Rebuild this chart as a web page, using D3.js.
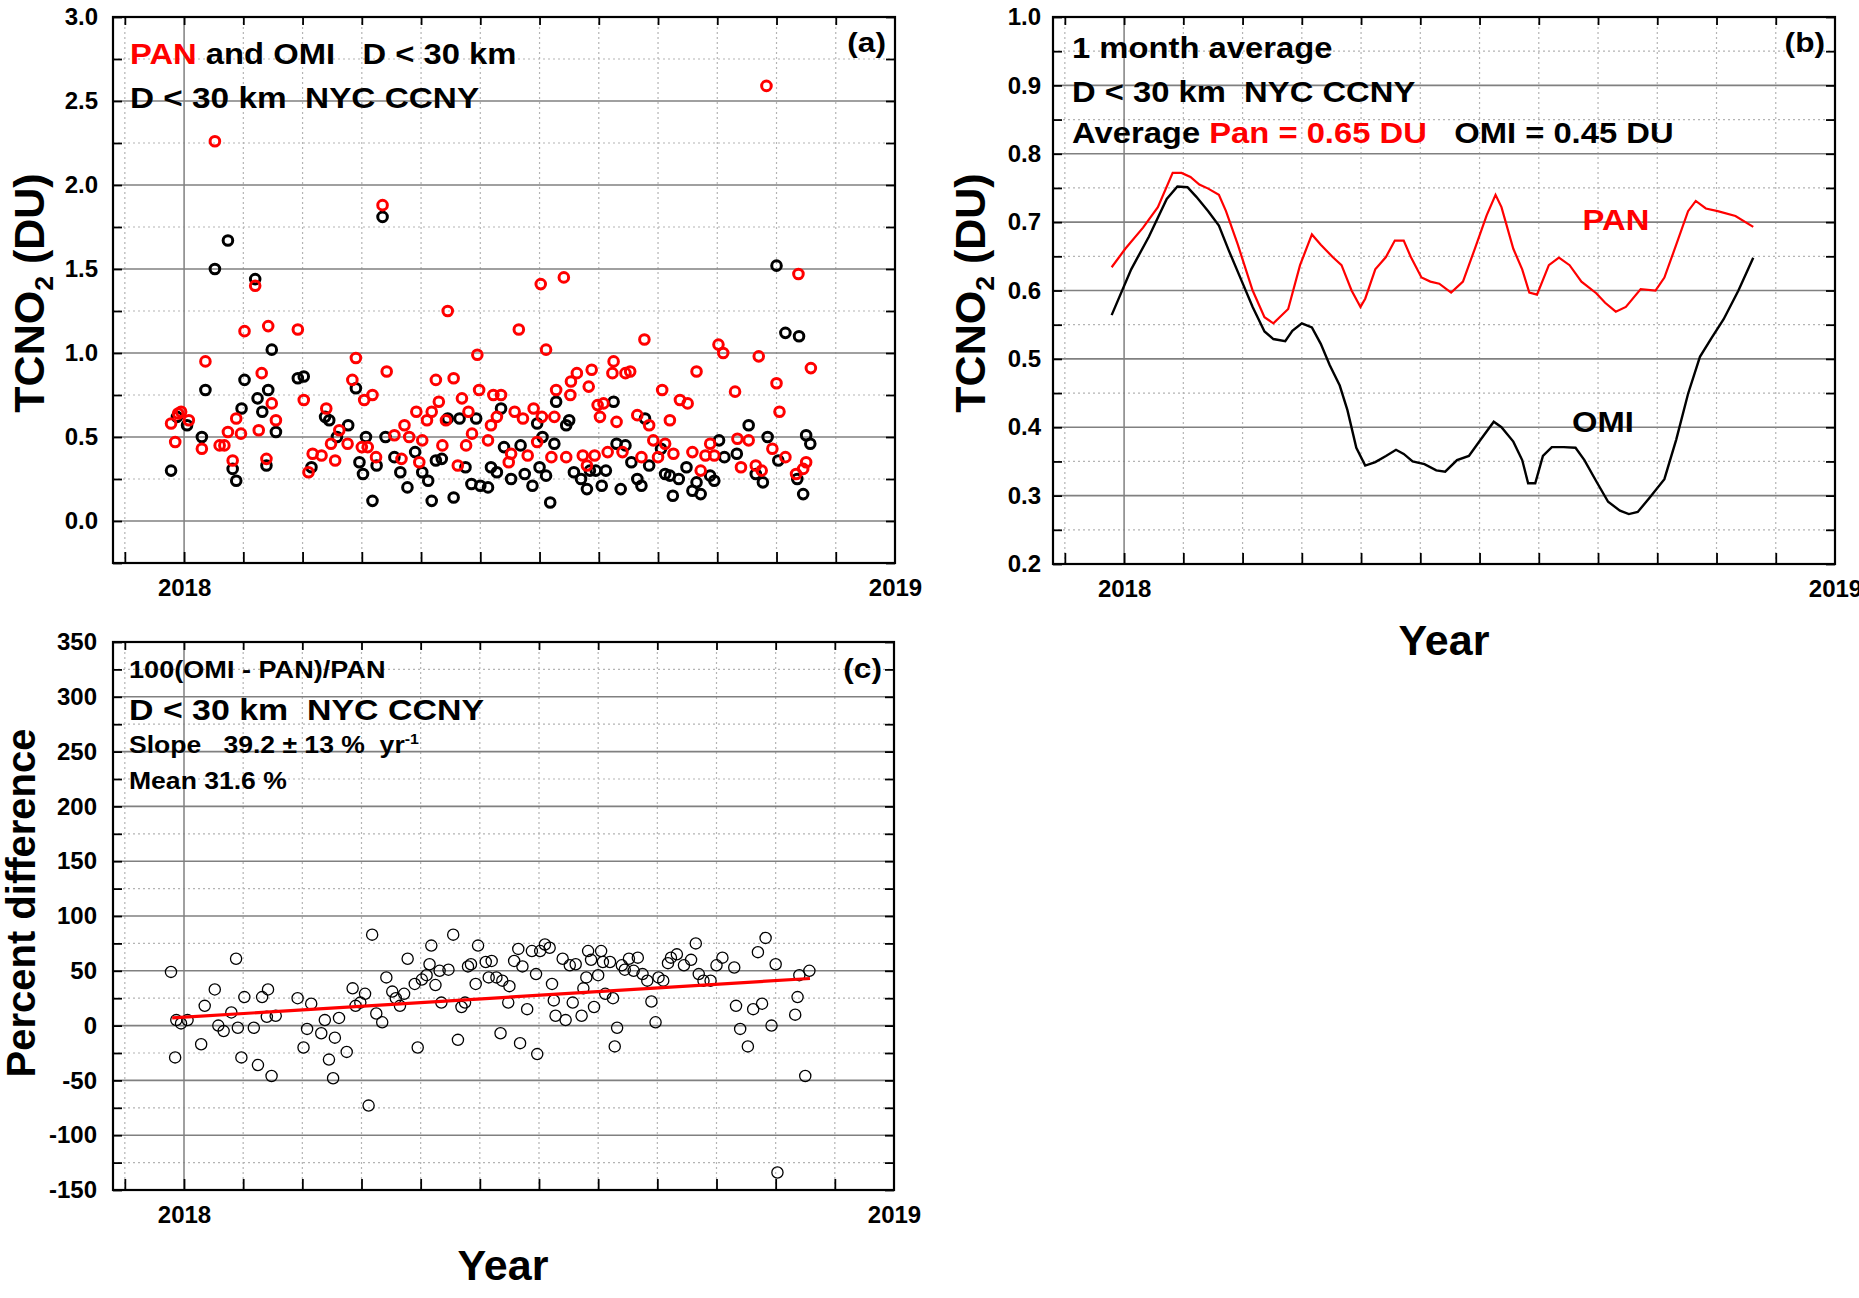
<!DOCTYPE html>
<html>
<head>
<meta charset="utf-8">
<script src="https://cdn.jsdelivr.net/npm/d3@7"></script>
<style>
  body { margin: 0; background: #fff; }
  svg { display: block; font-family: "Liberation Sans", Arial, sans-serif; font-weight: bold; }
</style>
</head>
<body>
<div id="chart"></div>
<script>
/* CONSTANTS */
const width = 1859,
  height = 1298,
  SX = 1.13; // the original figure is a little stretched horizontally

// x values are months since 1 Jan 2018 (0 = 2018, 12 = 2019)
const monthTicks = d3.range(-1, 12);
const yearTicks = [0, 12];
const yearLabels = ["2018", "2019"];

/* DATA: panel (a) daily TCNO2 (DU) */
const panPoints = [
  [-0.22,0.58],[-0.15,0.47],[-0.10,0.64],[-0.05,0.65],[0.08,0.60],[0.30,0.43],[0.36,0.95],[0.52,2.26],
  [0.60,0.45],[0.68,0.45],[0.74,0.53],[0.82,0.36],[0.88,0.61],[0.96,0.52],[1.02,1.13],[1.20,1.40],
  [1.26,0.54],[1.31,0.88],[1.39,0.37],[1.42,1.16],[1.48,0.70],[1.55,0.60],[1.92,1.14],[2.02,0.72],
  [2.10,0.29],[2.17,0.40],[2.32,0.39],[2.40,0.67],[2.48,0.46],[2.55,0.36],[2.62,0.54],[2.76,0.46],
  [2.84,0.84],[2.90,0.97],[3.00,0.44],[3.04,0.72],[3.10,0.44],[3.18,0.75],[3.24,0.38],[3.35,1.88],
  [3.42,0.89],[3.55,0.51],[3.67,0.37],[3.72,0.57],[3.80,0.50],[3.92,0.65],[3.97,0.35],[4.02,0.48],
  [4.10,0.60],[4.18,0.65],[4.25,0.84],[4.30,0.71],[4.36,0.45],[4.42,0.60],[4.45,1.25],[4.55,0.85],
  [4.62,0.33],[4.69,0.73],[4.76,0.45],[4.80,0.65],[4.86,0.52],[4.95,0.99],[4.98,0.78],[5.13,0.48],
  [5.18,0.57],[5.22,0.75],[5.28,0.62],[5.35,0.75],[5.48,0.35],[5.52,0.40],[5.58,0.65],[5.65,1.14],
  [5.72,0.61],[5.80,0.39],[5.90,0.67],[5.96,0.47],[6.02,1.41],[6.04,0.62],[6.11,1.02],[6.20,0.38],
  [6.25,0.62],[6.28,0.78],[6.41,1.45],[6.45,0.38],[6.52,0.75],[6.53,0.83],[6.63,0.88],[6.73,0.39],
  [6.80,0.33],[6.83,0.80],[6.88,0.90],[6.93,0.39],[6.98,0.69],[7.02,0.62],[7.08,0.70],[7.15,0.41],
  [7.23,0.88],[7.25,0.95],[7.30,0.59],[7.40,0.41],[7.45,0.88],[7.53,0.89],[7.65,0.63],[7.72,0.38],
  [7.77,1.08],[7.85,0.57],[7.92,0.48],[8.00,0.38],[8.07,0.78],[8.12,0.46],[8.20,0.60],[8.26,0.40],
  [8.37,0.72],[8.50,0.70],[8.58,0.41],[8.65,0.89],[8.72,0.30],[8.80,0.39],[8.88,0.46],[8.95,0.39],
  [9.02,1.05],[9.10,1.00],[9.30,0.77],[9.34,0.49],[9.40,0.32],[9.53,0.48],[9.65,0.33],[9.70,0.98],
  [9.75,0.30],[9.83,2.59],[9.93,0.43],[10.00,0.82],[10.05,0.65],[10.15,0.38],[10.33,0.28],[10.37,1.47],
  [10.45,0.31],[10.50,0.35],[10.58,0.91]
];

const omiPoints = [
  [-0.22,0.30],[-0.12,0.62],[0.05,0.57],[0.30,0.50],[0.36,0.78],[0.52,1.50],[0.74,1.67],[0.82,0.31],
  [0.88,0.24],[0.97,0.67],[1.02,0.84],[1.20,1.44],[1.24,0.73],[1.32,0.65],[1.42,0.78],[1.39,0.33],
  [1.48,1.02],[1.55,0.53],[1.92,0.85],[2.02,0.86],[2.15,0.32],[2.38,0.62],[2.45,0.60],[2.58,0.50],
  [2.77,0.57],[2.90,0.79],[2.96,0.35],[3.02,0.28],[3.07,0.50],[3.18,0.12],[3.25,0.33],[3.35,1.81],
  [3.40,0.50],[3.55,0.38],[3.65,0.29],[3.77,0.20],[3.90,0.41],[4.02,0.29],[4.12,0.24],[4.18,0.12],
  [4.25,0.36],[4.35,0.37],[4.45,0.61],[4.55,0.14],[4.65,0.61],[4.75,0.32],[4.85,0.22],[4.93,0.61],
  [5.00,0.21],[5.13,0.20],[5.18,0.32],[5.28,0.29],[5.35,0.67],[5.40,0.44],[5.52,0.25],[5.68,0.45],
  [5.75,0.28],[5.88,0.21],[5.96,0.58],[6.00,0.32],[6.05,0.50],[6.11,0.27],[6.18,0.11],[6.25,0.46],
  [6.28,0.71],[6.45,0.57],[6.50,0.60],[6.58,0.29],[6.70,0.25],[6.80,0.19],[6.85,0.30],[6.95,0.30],
  [7.05,0.21],[7.12,0.30],[7.25,0.71],[7.30,0.46],[7.37,0.19],[7.45,0.45],[7.55,0.35],[7.65,0.25],
  [7.72,0.21],[7.78,0.61],[7.85,0.33],[8.05,0.43],[8.12,0.28],[8.20,0.27],[8.25,0.15],[8.35,0.25],
  [8.48,0.32],[8.58,0.18],[8.65,0.23],[8.72,0.16],[8.88,0.27],[8.95,0.24],[9.03,0.48],[9.12,0.38],
  [9.33,0.40],[9.53,0.57],[9.65,0.28],[9.77,0.23],[9.85,0.50],[10.00,1.52],[10.03,0.36],[10.15,1.12],
  [10.35,0.25],[10.38,1.10],[10.45,0.16],[10.50,0.51],[10.57,0.46]
];

/* DATA: panel (b) one month running averages (DU) */
const panAverage = [
  [-0.21,0.634],[0.02,0.661],[0.32,0.692],[0.57,0.722],[0.82,0.772],[0.97,0.772],[1.12,0.766],[1.27,0.755],
  [1.42,0.749],[1.60,0.740],[1.72,0.716],[1.92,0.667],[2.17,0.600],[2.37,0.561],[2.52,0.552],[2.77,0.573],
  [2.97,0.637],[3.17,0.682],[3.32,0.667],[3.52,0.649],[3.67,0.637],[3.84,0.600],[3.99,0.576],[4.07,0.588],
  [4.24,0.631],[4.42,0.649],[4.57,0.673],[4.72,0.673],[4.84,0.649],[5.02,0.619],[5.17,0.613],[5.32,0.610],
  [5.52,0.597],[5.72,0.613],[5.92,0.661],[6.12,0.710],[6.27,0.740],[6.37,0.722],[6.57,0.661],[6.72,0.631],
  [6.84,0.597],[6.97,0.594],[7.17,0.637],[7.34,0.648],[7.52,0.637],[7.72,0.613],[7.97,0.596],[8.12,0.582],
  [8.30,0.569],[8.47,0.576],[8.72,0.602],[8.97,0.600],[9.12,0.619],[9.32,0.667],[9.52,0.716],[9.65,0.731],
  [9.82,0.720],[10.02,0.716],[10.32,0.709],[10.62,0.693]
];

const omiAverage = [
  [-0.21,0.564],[0.12,0.631],[0.42,0.679],[0.72,0.734],[0.90,0.752],[1.07,0.751],[1.22,0.737],[1.42,0.716],
  [1.60,0.695],[1.77,0.658],[1.97,0.617],[2.17,0.576],[2.37,0.540],[2.52,0.529],[2.72,0.526],[2.84,0.541],
  [3.00,0.552],[3.17,0.546],[3.32,0.522],[3.47,0.491],[3.64,0.461],[3.77,0.425],[3.92,0.370],[4.07,0.344],
  [4.24,0.349],[4.42,0.358],[4.59,0.367],[4.72,0.361],[4.87,0.350],[5.07,0.346],[5.27,0.337],[5.42,0.335],
  [5.62,0.352],[5.82,0.358],[6.02,0.382],[6.24,0.408],[6.37,0.400],[6.57,0.379],[6.72,0.352],[6.82,0.318],
  [6.94,0.318],[7.07,0.358],[7.22,0.371],[7.42,0.371],[7.62,0.370],[7.77,0.352],[7.97,0.321],[8.17,0.291],
  [8.37,0.278],[8.52,0.273],[8.67,0.276],[8.87,0.297],[9.12,0.324],[9.32,0.382],[9.52,0.449],[9.72,0.503],
  [9.92,0.531],[10.12,0.558],[10.37,0.600],[10.62,0.648]
];

/* DATA: panel (c) percent difference 100(OMI-PAN)/PAN */
const pctPoints = [
  [-0.22,49],[-0.15,-29],[-0.13,5],[-0.05,2],[0.06,5],[0.29,-17],[0.35,18],[0.52,33],[0.58,0],[0.67,-5],
  [0.80,12],[0.88,61],[0.91,-2],[0.97,-29],[1.02,26],[1.18,-2],[1.25,-36],[1.32,26],[1.40,8],[1.42,33],
  [1.48,-46],[1.55,9],[1.92,25],[2.02,-20],[2.08,-3],[2.15,20],[2.32,-7],[2.38,5],[2.45,-31],[2.52,-48],
  [2.55,-11],[2.62,7],[2.75,-24],[2.85,34],[2.90,18],[2.98,21],[3.06,29],[3.12,-73],[3.18,83],[3.25,11],
  [3.35,3],[3.42,44],[3.52,31],[3.58,25],[3.65,18],[3.72,29],[3.78,61],[3.90,38],[3.95,-20],[4.02,42],
  [4.10,46],[4.15,56],[4.18,73],[4.25,37],[4.32,50],[4.35,21],[4.47,51],[4.55,83],[4.63,-13],[4.69,17],
  [4.75,21],[4.80,54],[4.85,56],[4.93,38],[4.97,73],[5.10,58],[5.15,44],[5.20,59],[5.28,44],[5.35,-7],
  [5.38,41],[5.48,21],[5.50,36],[5.58,59],[5.65,70],[5.68,-16],[5.72,54],[5.80,15],[5.88,68],[5.95,47],
  [5.97,-26],[6.02,68],[6.10,74],[6.18,71],[6.22,38],[6.25,23],[6.28,9],[6.40,61],[6.45,5],[6.52,55],
  [6.57,21],[6.62,56],[6.72,9],[6.75,34],[6.80,44],[6.83,68],[6.88,60],[6.93,17],[7.00,46],[7.05,68],
  [7.08,58],[7.12,29],[7.20,58],[7.25,25],[7.28,-19],[7.32,-2],[7.40,55],[7.45,51],[7.52,61],[7.60,50],
  [7.67,62],[7.75,47],[7.83,41],[7.90,22],[7.97,3],[8.02,44],[8.10,41],[8.18,57],[8.23,62],[8.33,65],
  [8.45,55],[8.57,60],[8.65,75],[8.70,47],[8.78,41],[8.90,41],[9.00,55],[9.10,62],[9.30,53],[9.33,18],
  [9.40,-3],[9.53,-19],[9.62,15],[9.70,67],[9.77,20],[9.83,80],[9.93,0],[10.00,56],[10.03,-134],[10.33,10],
  [10.37,26],[10.40,46],[10.50,-46],[10.57,50]
];

// fitted linear trend end points (slope 39.2 % per year)
const trendLine = [[-0.2, 7], [10.58, 43]];

/* SVG */
const svg = d3.select("#chart")
  .append("svg")
  .attr("width", width)
  .attr("height", height);

svg.append("rect").attr("width", width).attr("height", height).attr("fill", "#fff");

// builds the frame, grid, ticks and tick labels of one panel, returns the scales
function panel(box, yDomain, yStep, yFmt) {
  const x = d3.scaleLinear().domain([-1.2, 12]).range([box.left, box.right]);
  const y = d3.scaleLinear().domain(yDomain).range([box.bottom, box.top]);

  const majors = d3.range(Math.ceil(yDomain[0] / yStep) * yStep, yDomain[1] + yStep / 2, yStep)
    .map(v => +v.toFixed(3));
  const allY = d3.range(yDomain[0], yDomain[1] + yStep / 4, yStep / 2).map(v => +v.toFixed(3));
  const minors = allY.filter(v => !majors.some(m => Math.abs(m - v) < 1e-6));

  const g = svg.append("g");

  // dotted grid
  g.selectAll("line.vgrid")
    .data(monthTicks.filter(m => m !== 0))
    .join("line")
    .attr("x1", d => x(d)).attr("x2", d => x(d))
    .attr("y1", box.top).attr("y2", box.bottom)
    .attr("stroke", "#b4b4b4").attr("stroke-width", 1.2).attr("stroke-dasharray", "2,3");

  g.selectAll("line.hminor")
    .data(minors)
    .join("line")
    .attr("x1", box.left).attr("x2", box.right)
    .attr("y1", d => y(d)).attr("y2", d => y(d))
    .attr("stroke", "#b4b4b4").attr("stroke-width", 1.2).attr("stroke-dasharray", "2,3");

  // solid grid
  g.append("line")
    .attr("x1", x(0)).attr("x2", x(0))
    .attr("y1", box.top).attr("y2", box.bottom)
    .attr("stroke", "#808080").attr("stroke-width", 1.5);

  g.selectAll("line.hmajor")
    .data(majors)
    .join("line")
    .attr("x1", box.left).attr("x2", box.right)
    .attr("y1", d => y(d)).attr("y2", d => y(d))
    .attr("stroke", "#808080").attr("stroke-width", 1.6);

  // inward ticks on all four sides
  const tickStyle = sel => {
    sel.select(".domain").remove();
    sel.selectAll("line").attr("stroke", "#000").attr("stroke-width", 1.8);
  };
  g.append("g").attr("transform", `translate(${box.left},0)`)
    .call(d3.axisRight(y).tickValues(allY).tickSize(9).tickFormat("")).call(tickStyle);
  g.append("g").attr("transform", `translate(${box.right},0)`)
    .call(d3.axisLeft(y).tickValues(allY).tickSize(9).tickFormat("")).call(tickStyle);
  g.append("g").attr("transform", `translate(0,${box.bottom})`)
    .call(d3.axisTop(x).tickValues(monthTicks).tickSize(11).tickFormat("")).call(tickStyle);
  g.append("g").attr("transform", `translate(0,${box.top})`)
    .call(d3.axisBottom(x).tickValues(monthTicks).tickSize(8).tickFormat("")).call(tickStyle);

  // tick labels
  const labelStyle = sel => {
    sel.select(".domain").remove();
    sel.selectAll("text")
      .attr("font-size", 24)
      .attr("font-family", "Liberation Sans, Arial, sans-serif")
      .attr("font-weight", "bold")
      .attr("fill", "#000");
  };
  g.append("g").attr("transform", `translate(${box.left},0)`)
    .call(d3.axisLeft(y).tickValues(majors).tickSize(0).tickPadding(box.pad).tickFormat(yFmt))
    .call(labelStyle);
  g.append("g").attr("transform", `translate(0,${box.bottom})`)
    .call(d3.axisBottom(x).tickValues(yearTicks).tickSize(0).tickPadding(16)
      .tickFormat((d, i) => yearLabels[i]))
    .call(labelStyle);

  return { g, x, y, box };
}

// finishes a panel with its black frame
function frame(p) {
  p.g.append("rect")
    .attr("x", p.box.left).attr("y", p.box.top)
    .attr("width", p.box.right - p.box.left)
    .attr("height", p.box.bottom - p.box.top)
    .attr("fill", "none").attr("stroke", "#000").attr("stroke-width", 2.2);
}

// stretched annotation text made of coloured parts
function note(x, y, parts, size, anchor = "start") {
  const t = svg.append("text")
    .attr("transform", `translate(${x},${y}) scale(${SX},1)`)
    .attr("text-anchor", anchor)
    .attr("font-size", size)
    .style("white-space", "pre");
  parts.forEach(([s, c, sup]) => {
    const ts = t.append("tspan").attr("fill", c || "#000").text(s);
    if (sup) ts.attr("font-size", size * 0.6).attr("dy", -size * 0.4);
  });
  return t;
}

function yTitle(x, y, parts, size) {
  const t = svg.append("text")
    .attr("transform", `translate(${x},${y}) rotate(-90)`)
    .attr("text-anchor", "middle")
    .attr("font-size", size)
    .style("white-space", "pre");
  parts.forEach(([s, sub]) => {
    const ts = t.append("tspan").text(s);
    if (sub) ts.attr("font-size", size * 0.62).attr("dy", size * 0.22);
    else if (t.selectAll("tspan").size() > 1) ts.attr("dy", -size * 0.22);
  });
}

/* PANEL (a) */
const pa = panel({ left: 113, right: 895, top: 17, bottom: 563, pad: 15 }, [-0.25, 3.0], 0.5, d3.format(".1f"));

pa.g.selectAll("circle.omi")
  .data(omiPoints)
  .join("circle")
  .attr("cx", d => pa.x(d[0])).attr("cy", d => pa.y(d[1]))
  .attr("r", 4.8)
  .attr("fill", "none").attr("stroke", "#000").attr("stroke-width", 3);

pa.g.selectAll("circle.pan")
  .data(panPoints)
  .join("circle")
  .attr("cx", d => pa.x(d[0])).attr("cy", d => pa.y(d[1]))
  .attr("r", 4.8)
  .attr("fill", "none").attr("stroke", "#f00").attr("stroke-width", 3);
frame(pa);

note(130, 64, [["PAN", "#f00"], [" and OMI   D < 30 km"]], 29);
note(130, 108, [["D < 30 km  NYC CCNY"]], 29.5);
note(886, 52, [["(a)"]], 28, "end");
yTitle(44, 293, [["TCNO"], ["2", true], [" (DU)"]], 43);

/* PANEL (b) */
const pb = panel({ left: 1053, right: 1835, top: 17, bottom: 564, pad: 12 }, [0.2, 1.0], 0.1, d3.format(".1f"));

const lineFunc = d3.line().x(d => pb.x(d[0])).y(d => pb.y(d[1]));

pb.g.append("path")
  .attr("d", lineFunc(omiAverage))
  .attr("fill", "none").attr("stroke", "#000").attr("stroke-width", 2.4);
pb.g.append("path")
  .attr("d", lineFunc(panAverage))
  .attr("fill", "none").attr("stroke", "#f00").attr("stroke-width", 2.2);
frame(pb);

note(1072, 58, [["1 month average"]], 29);
note(1072, 102, [["D < 30 km  NYC CCNY"]], 29);
note(1072, 143, [["Average "], ["Pan = 0.65 DU", "#f00"], ["   OMI = 0.45 DU"]], 29);
note(1825, 52, [["(b)"]], 28, "end");
note(1616, 230, [["PAN", "#f00"]], 29, "middle");
note(1603, 432, [["OMI"]], 29, "middle");
yTitle(985, 293, [["TCNO"], ["2", true], [" (DU)"]], 43);
svg.append("text").attr("x", 1444).attr("y", 655).attr("text-anchor", "middle")
  .attr("font-size", 43).text("Year");

/* PANEL (c) */
const pc = panel({ left: 113, right: 894, top: 642, bottom: 1190, pad: 16 }, [-150, 350], 50, d => String(d));

pc.g.selectAll("circle.pct")
  .data(pctPoints)
  .join("circle")
  .attr("cx", d => pc.x(d[0])).attr("cy", d => pc.y(d[1]))
  .attr("r", 5.6)
  .attr("fill", "none").attr("stroke", "#000").attr("stroke-width", 1.3);

pc.g.append("path")
  .attr("d", d3.line().x(d => pc.x(d[0])).y(d => pc.y(d[1]))(trendLine))
  .attr("stroke", "#f00").attr("stroke-width", 3.2);
frame(pc);

note(129, 678, [["100(OMI - PAN)/PAN"]], 24);
note(129, 720, [["D < 30 km  NYC CCNY"]], 30);
note(129, 753, [["Slope   39.2 ± 13 %  yr"], ["-1", "#000", true]], 23.5);
note(129, 789, [["Mean 31.6 %"]], 23.5);
note(882, 678, [["(c)"]], 28, "end");
svg.append("text")
  .attr("transform", "translate(35,903) rotate(-90)")
  .attr("text-anchor", "middle")
  .attr("font-size", 40)
  .text("Percent difference");
svg.append("text").attr("x", 503).attr("y", 1280).attr("text-anchor", "middle")
  .attr("font-size", 43).text("Year");
</script>
</body>
</html>
